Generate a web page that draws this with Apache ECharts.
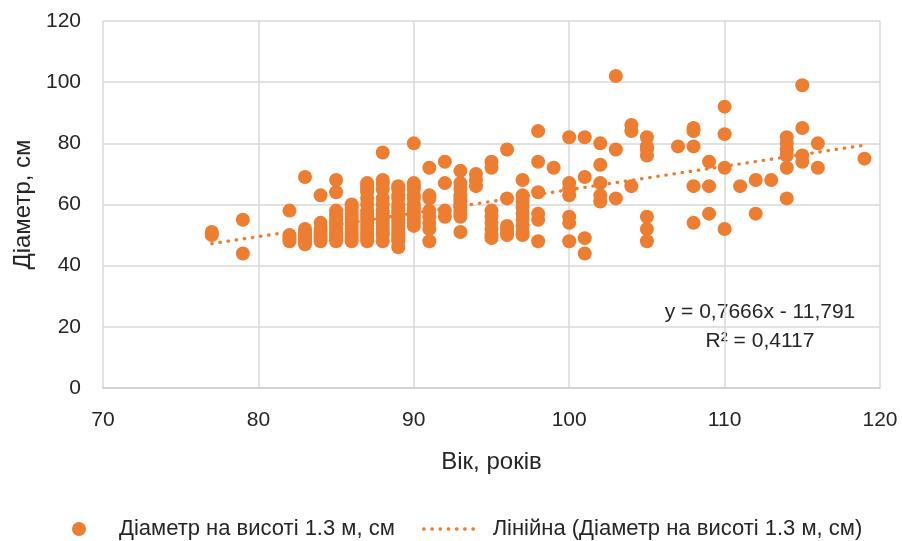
<!DOCTYPE html>
<html>
<head>
<meta charset="utf-8">
<script src="https://cdn.jsdelivr.net/npm/echarts@6/dist/echarts.min.js"></script>
<style>
  html, body { margin: 0; padding: 0; background: #fff; }
  #chart { width: 902px; height: 541px; }
</style>
</head>
<body>
<div id="chart"></div>
<script>
// вік дерев (роки) і діаметри для кожного віку
const ageGroups = [77, 79, 82, 83, 84, 85, 86, 87, 88, 89, 90, 91, 92, 93, 94, 95, 96, 97, 98, 99,
  100, 101, 102, 103, 104, 105, 107, 108, 109, 110, 111, 112, 113, 114, 115, 116, 119];
const diameterGroups = [
  [51, 50],
  [55, 44],
  [58, 50, 49, 48],
  [69, 52, 51, 50, 49, 48, 47],
  [63, 54, 52, 51, 50, 49, 48],
  [68, 64, 58, 57, 56, 55, 54, 53, 52, 51, 50, 49, 48],
  [60, 59, 58, 57, 56, 55, 54, 53, 52, 51, 50, 49, 48],
  [67, 66, 65, 64, 62, 60, 58, 57, 56, 55, 54, 53, 52, 51, 50, 49, 48],
  [77, 68, 67, 65, 62, 60, 58, 57, 56, 55, 54, 53, 52, 51, 50, 48],
  [66, 65, 63, 62, 60, 59, 58, 57, 56, 55, 54, 53, 52, 51, 50, 49, 48, 46],
  [80, 67, 66, 65, 63, 62, 60, 59, 58, 57, 56, 55, 54, 53],
  [72, 63, 62, 58, 56, 54, 52, 48],
  [74, 67, 58, 56],
  [71, 67, 65, 63, 62, 61, 60, 59, 58, 57, 56, 51],
  [70, 68, 66],
  [74, 72, 58, 56, 54, 52, 50, 49],
  [78, 62, 53, 52, 51, 50],
  [68, 63, 61, 59, 57, 55, 53, 51, 50],
  [84, 74, 64, 57, 55, 48],
  [72],
  [82, 67, 65, 63, 56, 54, 48],
  [82, 69, 49, 44],
  [80, 73, 67, 63, 61],
  [102, 78, 62],
  [86, 84, 66],
  [82, 79, 78, 76, 56, 52, 48],
  [79],
  [85, 84, 79, 66, 54],
  [74, 66, 57],
  [92, 83, 72, 52],
  [66],
  [68, 57],
  [68],
  [82, 80, 78, 76, 72, 62],
  [99, 85, 76, 74],
  [80, 72],
  [75]
];

// кінці лінії тренду (y = 0,7666x - 11,791)
const trendAges = [77, 119];
const trendDiameters = [47.2, 79.4];

const xTicks = { min: 70, max: 120, step: 10 };
const yTicks = { min: 0, max: 120, step: 20 };

const scatterName = 'Діаметр на висоті 1.3 м, см';
const trendName = 'Лінійна (Діаметр на висоті 1.3 м, см)';

const FONT = '"Liberation Sans", Arial, sans-serif';
const TEXT = '#262626';
const ORANGE = '#ED7D31';

const scatterData = [];
ageGroups.forEach((age, i) => {
  diameterGroups[i].forEach(d => scatterData.push([age, d]));
});
const trendData = trendAges.map((a, i) => [a, trendDiameters[i]]);

const dotted = { color: ORANGE, width: 3.3, type: [0.5, 7.7], cap: 'round' };

const chart = echarts.init(document.getElementById('chart'));
chart.setOption({
  animation: false,
  textStyle: { fontFamily: FONT },
  grid: { left: 103, right: 22, top: 21, bottom: 153 },
  xAxis: {
    type: 'value',
    min: xTicks.min, max: xTicks.max, interval: xTicks.step,
    name: 'Вік, років',
    nameLocation: 'middle',
    nameGap: 62,
    nameTextStyle: { fontSize: 24, color: TEXT, fontFamily: FONT },
    axisLine: { show: true, lineStyle: { color: '#d0d0d0', width: 1.5 } },
    axisTick: { show: false },
    axisLabel: { fontSize: 21, color: TEXT, margin: 22, fontFamily: FONT },
    splitLine: { show: true, lineStyle: { color: '#d9d9d9', width: 1.5 } }
  },
  yAxis: {
    type: 'value',
    min: yTicks.min, max: yTicks.max, interval: yTicks.step,
    name: 'Діаметр, см',
    nameLocation: 'middle',
    nameGap: 60,
    nameRotate: 90,
    nameTextStyle: { fontSize: 24, color: TEXT, fontFamily: FONT },
    axisLine: { show: false },
    axisTick: { show: false },
    axisLabel: { fontSize: 21, color: TEXT, margin: 22, fontFamily: FONT },
    splitLine: { show: true, lineStyle: { color: '#d9d9d9', width: 1.5 } }
  },
  legend: [
    {
      data: [{ name: scatterName, icon: 'circle' }],
      left: 67, top: 513,
      itemWidth: 14, itemHeight: 14,
      textStyle: { fontSize: 22, color: TEXT, fontFamily: FONT, padding: [0, 0, 0, 28] }
    },
    {
      data: [{ name: trendName }],
      left: 417, top: 513,
      itemWidth: 56, itemHeight: 14,
      itemStyle: { opacity: 0 },
      lineStyle: dotted,
      textStyle: { fontSize: 22, color: TEXT, fontFamily: FONT, padding: [0, 0, 0, 8] }
    }
  ],
  graphic: [
    {
      type: 'text', x: 760, y: 302,
      style: { text: 'y = 0,7666x - 11,791', fill: TEXT, font: '21px ' + FONT, textAlign: 'center' }
    },
    {
      type: 'text', x: 760, y: 331,
      style: { text: 'R² = 0,4117', fill: TEXT, font: '21px ' + FONT, textAlign: 'center' }
    }
  ],
  series: [
    {
      name: scatterName,
      type: 'scatter',
      data: scatterData,
      symbol: 'circle',
      symbolSize: 14,
      itemStyle: { color: ORANGE, opacity: 1 }
    },
    {
      name: trendName,
      type: 'line',
      data: trendData,
      symbol: 'none',
      showSymbol: false,
      itemStyle: { color: ORANGE },
      lineStyle: dotted,
      z: 1
    }
  ]
});
window.addEventListener('resize', () => chart.resize());
</script>
</body>
</html>
